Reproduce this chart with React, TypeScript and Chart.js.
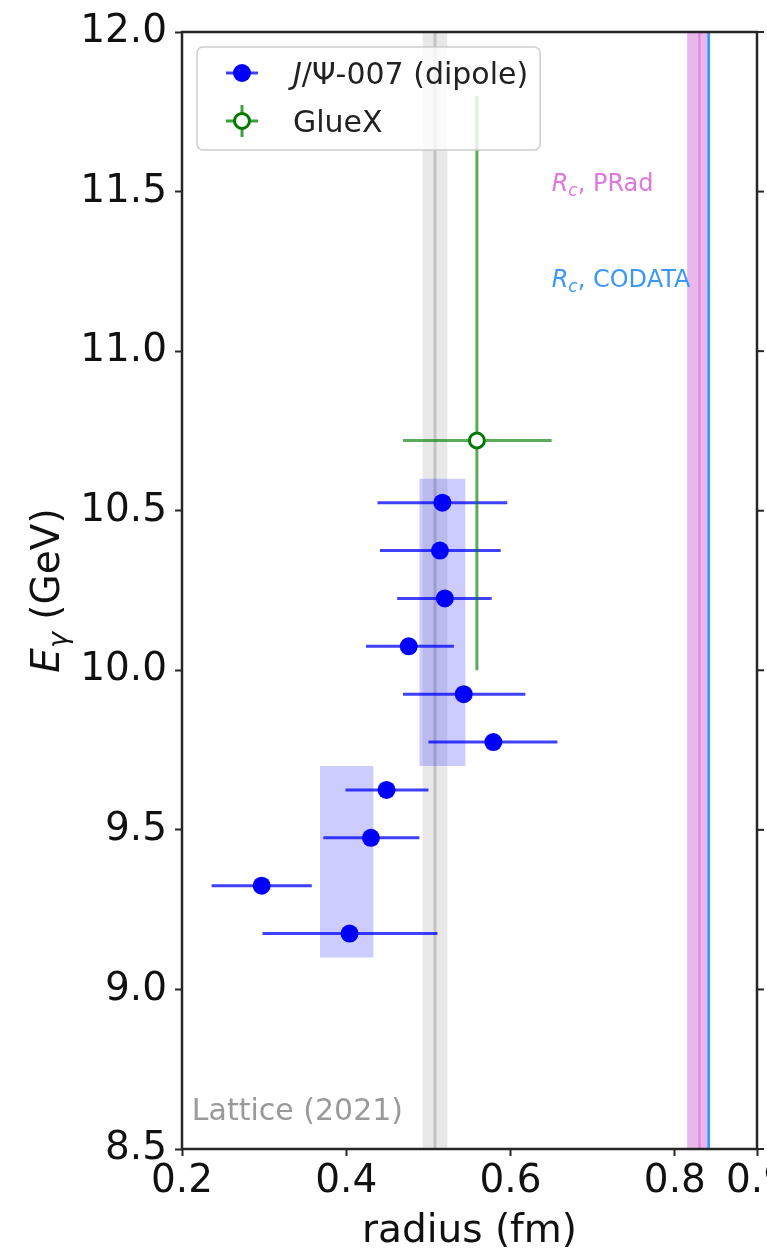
import React, { useEffect, useRef } from 'react';
import { Chart, registerables } from 'chart.js';

Chart.register(...registerables);

// ---------- data ----------
const jpsiEnergy = [10.525, 10.375, 10.225, 10.075, 9.925, 9.775, 9.625, 9.475, 9.325, 9.175];
const jpsiRadius = [0.517, 0.514, 0.520, 0.476, 0.543, 0.579, 0.449, 0.430, 0.297, 0.404];
const jpsiRadiusLow = [0.438, 0.441, 0.462, 0.424, 0.469, 0.500, 0.399, 0.372, 0.236, 0.298];
const jpsiRadiusHigh = [0.596, 0.588, 0.577, 0.531, 0.618, 0.657, 0.500, 0.489, 0.358, 0.511];

const boxRadiusLow = [0.489, 0.368];
const boxRadiusHigh = [0.545, 0.433];
const boxEnergyLow = [9.70, 9.10];
const boxEnergyHigh = [10.60, 9.70];

const gluexEnergy = [10.72];
const gluexRadius = [0.559];
const gluexRadiusLow = [0.469];
const gluexRadiusHigh = [0.650];
const gluexEnergyLow = [10.0];
const gluexEnergyHigh = [11.8];

const latticeBand = [0.493, 0.523];
const latticeValue = [0.508];
const pradBand = [0.815, 0.840];
const pradValue = [0.830];
const codataBand = [0.8395, 0.8430];
const codataValue = [0.8412];

const xTicks = [0.2, 0.4, 0.6, 0.8, 0.9];
const yTicks = [8.5, 9.0, 9.5, 10.0, 10.5, 11.0, 11.5, 12.0];

const legendLabels = ['/Ψ-007 (dipole)', 'GlueX'];
const annotationLabels = [', PRad', ', CODATA', 'Lattice (2021)'];

const FAM = '"DejaVu Sans", "Noto Sans", sans-serif';

type Run = { t: string; font: string; dy?: number };

function drawRuns(ctx: CanvasRenderingContext2D, runs: Run[], x: number, y: number) {
  let cx = x;
  for (const r of runs) {
    ctx.font = r.font;
    ctx.fillText(r.t, cx, y + (r.dy || 0));
    cx += ctx.measureText(r.t).width;
  }
  return cx;
}
function runsWidth(ctx: CanvasRenderingContext2D, runs: Run[]) {
  let w = 0;
  for (const r of runs) {
    ctx.font = r.font;
    w += ctx.measureText(r.t).width;
  }
  return w;
}

export default function App() {
  const ref = useRef<HTMLCanvasElement>(null);

  useEffect(() => {
    document.body.style.margin = '0';
    const canvas = ref.current!;

    const overlay = {
      id: 'overlay',
      beforeDatasetsDraw(chart: any) {
        const ctx: CanvasRenderingContext2D = chart.ctx;
        const xs = chart.scales.x;
        const ys = chart.scales.y;
        const a = chart.chartArea;
        ctx.save();
        ctx.beginPath();
        ctx.rect(a.left, a.top, a.right - a.left, a.bottom - a.top);
        ctx.clip();
        const vband = (lo: number, hi: number, color: string) => {
          const x0 = xs.getPixelForValue(lo);
          const x1 = xs.getPixelForValue(hi);
          ctx.fillStyle = color;
          ctx.fillRect(x0, a.top, x1 - x0, a.bottom - a.top);
        };
        const vline = (v: number, color: string, w: number) => {
          const x = xs.getPixelForValue(v);
          ctx.strokeStyle = color;
          ctx.lineWidth = w;
          ctx.beginPath();
          ctx.moveTo(x, a.top);
          ctx.lineTo(x, a.bottom);
          ctx.stroke();
        };
        // lattice band
        vband(latticeBand[0], latticeBand[1], 'rgba(128,128,128,0.18)');
        vline(latticeValue[0], 'rgba(110,110,110,0.3)', 3);
        // PRad
        vband(pradBand[0], pradBand[1], 'rgba(214,112,214,0.5)');
        vline(pradValue[0], 'rgba(214,112,214,0.6)', 2.5);
        // CODATA
        vband(codataBand[0], codataBand[1], 'rgba(30,144,255,0.55)');
        vline(codataValue[0], 'rgba(30,144,255,0.9)', 2);

        // boxes
        ctx.fillStyle = 'rgba(0,0,255,0.2)';
        for (let i = 0; i < boxRadiusLow.length; i++) {
          const x0 = xs.getPixelForValue(boxRadiusLow[i]);
          const x1 = xs.getPixelForValue(boxRadiusHigh[i]);
          const y0 = ys.getPixelForValue(boxEnergyHigh[i]);
          const y1 = ys.getPixelForValue(boxEnergyLow[i]);
          ctx.fillRect(x0, y0, x1 - x0, y1 - y0);
        }

        // J/psi error bars
        ctx.strokeStyle = 'rgba(0,0,255,0.75)';
        ctx.lineWidth = 3;
        for (let i = 0; i < jpsiEnergy.length; i++) {
          const y = ys.getPixelForValue(jpsiEnergy[i]);
          ctx.beginPath();
          ctx.moveTo(xs.getPixelForValue(jpsiRadiusLow[i]), y);
          ctx.lineTo(xs.getPixelForValue(jpsiRadiusHigh[i]), y);
          ctx.stroke();
        }
        // GlueX error bars
        ctx.strokeStyle = 'rgba(0,128,0,0.65)';
        ctx.lineWidth = 3;
        for (let i = 0; i < gluexEnergy.length; i++) {
          const y = ys.getPixelForValue(gluexEnergy[i]);
          const x = xs.getPixelForValue(gluexRadius[i]);
          ctx.beginPath();
          ctx.moveTo(xs.getPixelForValue(gluexRadiusLow[i]), y);
          ctx.lineTo(xs.getPixelForValue(gluexRadiusHigh[i]), y);
          ctx.moveTo(x, ys.getPixelForValue(gluexEnergyLow[i]));
          ctx.lineTo(x, ys.getPixelForValue(gluexEnergyHigh[i]));
          ctx.stroke();
        }
        ctx.restore();
      },
      afterDraw(chart: any) {
        const ctx: CanvasRenderingContext2D = chart.ctx;
        const xs = chart.scales.x;
        const ys = chart.scales.y;
        const a = chart.chartArea;
        ctx.save();
        // frame
        ctx.strokeStyle = '#262626';
        ctx.lineWidth = 2.5;
        ctx.strokeRect(a.left, a.top, a.right - a.left, a.bottom - a.top);
        // right-side ticks
        ctx.lineWidth = 2;
        for (const v of yTicks) {
          const y = ys.getPixelForValue(v);
          ctx.beginPath();
          ctx.moveTo(a.right, y);
          ctx.lineTo(a.right + 7, y);
          ctx.stroke();
        }

        // annotations
        ctx.textBaseline = 'alphabetic';
        ctx.textAlign = 'left';
        const annX = xs.getPixelForValue(0.65);
        ctx.fillStyle = '#dd77dd';
        drawRuns(ctx, [
          { t: 'R', font: `italic 24px ${FAM}` },
          { t: 'c', font: `italic 17px ${FAM}`, dy: 5 },
          { t: annotationLabels[0], font: `24px ${FAM}` },
        ], annX, ys.getPixelForValue(11.53) + 9);
        ctx.fillStyle = '#3b98f5';
        drawRuns(ctx, [
          { t: 'R', font: `italic 24px ${FAM}` },
          { t: 'c', font: `italic 17px ${FAM}`, dy: 5 },
          { t: annotationLabels[1], font: `24px ${FAM}` },
        ], annX, ys.getPixelForValue(11.23) + 9);
        ctx.fillStyle = '#9a9a9a';
        ctx.font = `30px ${FAM}`;
        ctx.fillText(annotationLabels[2], xs.getPixelForValue(0.212), ys.getPixelForValue(8.625) + 11);

        // x title
        ctx.fillStyle = '#111';
        ctx.font = `39px ${FAM}`;
        ctx.textAlign = 'center';
        ctx.fillText('radius (fm)', (a.left + a.right) / 2, 1242);

        // y title
        ctx.textAlign = 'left';
        const yRuns: Run[] = [
          { t: 'E', font: `italic 39px ${FAM}` },
          { t: 'γ', font: `italic 27px ${FAM}`, dy: 8 },
          { t: ' (GeV)', font: `39px ${FAM}` },
        ];
        const w = runsWidth(ctx, yRuns);
        ctx.save();
        ctx.translate(45, (a.top + a.bottom) / 2);
        ctx.rotate(-Math.PI / 2);
        drawRuns(ctx, yRuns, -w / 2, 14);
        ctx.restore();

        // legend
        const lx = a.left + 15;
        const ly = a.top + 15;
        const textX = lx + 96;
        const r1: Run[] = [
          { t: 'J', font: `italic 30px ${FAM}` },
          { t: legendLabels[0], font: `30px ${FAM}` },
        ];
        const tw = Math.max(runsWidth(ctx, r1), runsWidth(ctx, [{ t: legendLabels[1], font: `30px ${FAM}` }]));
        const lw = textX + tw + 12 - lx;
        const lh = 103;
        ctx.beginPath();
        const rr = 6;
        ctx.moveTo(lx + rr, ly);
        ctx.arcTo(lx + lw, ly, lx + lw, ly + lh, rr);
        ctx.arcTo(lx + lw, ly + lh, lx, ly + lh, rr);
        ctx.arcTo(lx, ly + lh, lx, ly, rr);
        ctx.arcTo(lx, ly, lx + lw, ly, rr);
        ctx.closePath();
        ctx.fillStyle = 'rgba(255,255,255,0.8)';
        ctx.fill();
        ctx.strokeStyle = 'rgba(200,200,200,0.9)';
        ctx.lineWidth = 1.5;
        ctx.stroke();

        const mx = lx + 45;
        const row1 = ly + 26;
        const row2 = ly + 74;
        // row 1 marker
        ctx.strokeStyle = 'rgba(0,0,255,0.75)';
        ctx.lineWidth = 3;
        ctx.beginPath();
        ctx.moveTo(mx - 16, row1);
        ctx.lineTo(mx + 16, row1);
        ctx.stroke();
        ctx.fillStyle = '#0000ff';
        ctx.beginPath();
        ctx.arc(mx, row1, 9, 0, Math.PI * 2);
        ctx.fill();
        // row 2 marker
        ctx.strokeStyle = 'rgba(0,128,0,0.75)';
        ctx.lineWidth = 3;
        ctx.beginPath();
        ctx.moveTo(mx - 16, row2);
        ctx.lineTo(mx + 16, row2);
        ctx.moveTo(mx, row2 - 16);
        ctx.lineTo(mx, row2 + 16);
        ctx.stroke();
        ctx.fillStyle = '#fff';
        ctx.strokeStyle = '#007a00';
        ctx.beginPath();
        ctx.arc(mx, row2, 7.5, 0, Math.PI * 2);
        ctx.fill();
        ctx.stroke();

        ctx.fillStyle = '#222';
        ctx.textBaseline = 'alphabetic';
        drawRuns(ctx, r1, textX, row1 + 11);
        drawRuns(ctx, [{ t: legendLabels[1], font: `30px ${FAM}` }], textX, row2 + 11);
        ctx.restore();
      },
    };

    const chart = new Chart(canvas, {
      type: 'scatter',
      data: {
        datasets: [
          {
            label: 'J/Ψ-007 (dipole)',
            data: jpsiRadius.map((r, i) => ({ x: r, y: jpsiEnergy[i] })),
            pointRadius: 9,
            pointBackgroundColor: '#0000ff',
            pointBorderWidth: 0,
            pointBorderColor: '#0000ff',
          },
          {
            label: 'GlueX',
            data: gluexRadius.map((r, i) => ({ x: r, y: gluexEnergy[i] })),
            pointRadius: 7.5,
            pointBackgroundColor: '#ffffff',
            pointBorderColor: '#007a00',
            pointBorderWidth: 3,
          },
        ],
      },
      options: {
        animation: false,
        responsive: false,
        maintainAspectRatio: false,
        devicePixelRatio: 1,
        layout: { padding: { left: 0, top: 32, right: 63, bottom: 0 } },
        plugins: { legend: { display: false }, tooltip: { enabled: false } },
        scales: {
          x: {
            type: 'linear',
            min: 0.2,
            max: 0.9,
            afterBuildTicks: (s: any) => {
              s.ticks = xTicks.map((v) => ({ value: v }));
            },
            afterFit: (s: any) => {
              s.height = 102;
            },
            ticks: {
              autoSkip: false,
              maxRotation: 0,
              padding: 2,
              color: '#111',
              font: { family: FAM, size: 39 },
              callback: (v: any) => Number(v).toFixed(1),
            },
            grid: {
              display: true,
              drawOnChartArea: false,
              drawTicks: true,
              tickLength: 7,
              tickWidth: 2,
              tickColor: '#262626',
            },
            border: { display: false },
          },
          y: {
            type: 'linear',
            min: 8.5,
            max: 12.0,
            afterBuildTicks: (s: any) => {
              s.ticks = yTicks.map((v) => ({ value: v }));
            },
            afterFit: (s: any) => {
              s.width = 182;
            },
            ticks: {
              autoSkip: false,
              padding: 8,
              color: '#111',
              font: { family: FAM, size: 39 },
              callback: (v: any) => Number(v).toFixed(1),
            },
            grid: {
              display: true,
              drawOnChartArea: false,
              drawTicks: true,
              tickLength: 7,
              tickWidth: 2,
              tickColor: '#262626',
            },
            border: { display: false },
          },
        },
      },
      plugins: [overlay],
    } as any);

    return () => chart.destroy();
  }, []);

  return (
    <div style={{ width: 767, height: 1251, overflow: 'hidden', position: 'relative' }}>
      <canvas ref={ref} width={820} height={1251} style={{ display: 'block' }} />
    </div>
  );
}
